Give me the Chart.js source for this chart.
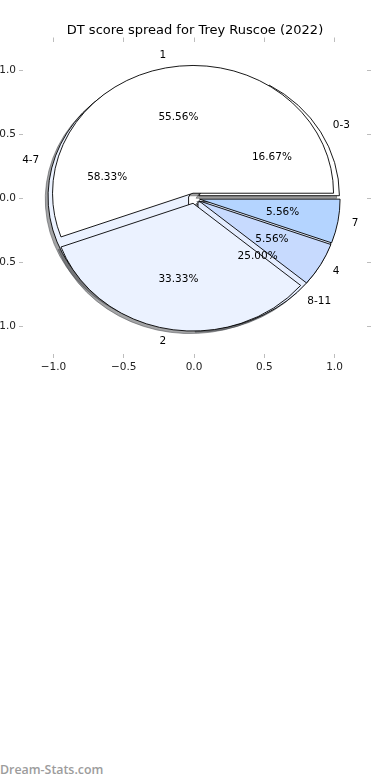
<!DOCTYPE html>
<html>
<head>
<meta charset="utf-8">
<script src="https://cdn.jsdelivr.net/npm/chart.js@4.4.1/dist/chart.umd.min.js"></script>
<style>
  html, body { margin: 0; padding: 0; background: #fff; }
  #wrap { position: relative; width: 390px; height: 780px; overflow: hidden; }
  #box { position: absolute; left: 0; top: 0; width: 390px; height: 380px; }
  #wm { position: absolute; left: 0; top: 762px; font: 600 12.4px "Open Sans", sans-serif; color: #9c9c9c; line-height: 16px; }
</style>
</head>
<body>
<div id="wrap">
  <div id="box"><canvas id="c" width="390" height="380"></canvas></div>
  <div id="wm">Dream-Stats.com</div>
</div>
<script>
// ---- data ----
const chartTitle = 'DT score spread for Trey Ruscoe (2022)';
const innerLabels = ['1', '2', '4', '7'];
const innerValues = [10, 6, 1, 1];
const outerLabels = ['0-3', '4-7', '8-11'];
const outerValues = [2, 7, 3];
const tickValues = [-1, -0.5, 0, 0.5, 1];

// ---- style ----
const innerColors = ['#ffffff', '#ebf2ff', '#c7dafe', '#b4d4ff'];
const outerColors = ['#ffffff', '#ebf2ff', '#e4edff'];
const explodeAmt = 0.04;
const FONT = '"DejaVu Sans", "Liberation Sans", sans-serif';

function slices(values, explode) {
  const total = values.reduce((a, b) => a + b, 0);
  let a = 0;
  return values.map(v => {
    const a1 = a, a2 = a + 360 * v / total;
    a = a2;
    const mid = (a1 + a2) / 2 * Math.PI / 180;
    return { a1, a2, mid, ox: explode * Math.cos(mid), oy: explode * Math.sin(mid), pct: 100 * v / total };
  });
}

function wedgePath(ctx, xs, ys, cxD, cyD, a1, a2) {
  const cx = xs.getPixelForValue(cxD), cy = ys.getPixelForValue(cyD);
  const rx = xs.getPixelForValue(cxD + 1) - cx;
  const ry = cy - ys.getPixelForValue(cyD + 1);
  ctx.beginPath();
  ctx.moveTo(cx, cy);
  ctx.ellipse(cx, cy, rx, ry, 0, -a1 * Math.PI / 180, -a2 * Math.PI / 180, true);
  ctx.closePath();
}

function shadowColor(hex) {
  const r = parseInt(hex.substr(1, 2), 16), g = parseInt(hex.substr(3, 2), 16), b = parseInt(hex.substr(5, 2), 16);
  return 'rgba(' + Math.round(r * 0.3) + ',' + Math.round(g * 0.3) + ',' + Math.round(b * 0.3) + ',0.5)';
}

const piePlugin = {
  id: 'twoPies',
  afterDatasetsDraw(chart) {
    const ctx = chart.ctx, xs = chart.scales.x, ys = chart.scales.y;
    const pies = [
      { s: slices(outerValues, explodeAmt), labels: outerLabels, colors: outerColors },
      { s: slices(innerValues, explodeAmt), labels: innerLabels, colors: innerColors }
    ];
    ctx.save();
    // shadows
    pies.forEach(p => p.s.forEach((w, i) => {
      wedgePath(ctx, xs, ys, w.ox - 0.02, w.oy - 0.02, w.a1, w.a2);
      ctx.fillStyle = shadowColor(p.colors[i % p.colors.length]);
      ctx.strokeStyle = ctx.fillStyle;
      ctx.lineWidth = 1;
      ctx.fill();
      ctx.stroke();
    }));
    // wedges
    pies.forEach(p => p.s.forEach((w, i) => {
      wedgePath(ctx, xs, ys, w.ox, w.oy, w.a1, w.a2);
      ctx.fillStyle = p.colors[i % p.colors.length];
      ctx.fill();
      ctx.strokeStyle = '#000';
      ctx.lineWidth = 0.9;
      ctx.lineJoin = 'miter';
      ctx.stroke();
    }));
    // texts
    ctx.fillStyle = '#000';
    ctx.font = '10.5px ' + FONT;
    ctx.textBaseline = 'middle';
    pies.forEach(p => p.s.forEach((w, i) => {
      const lx = w.ox + 1.1 * Math.cos(w.mid), ly = w.oy + 1.1 * Math.sin(w.mid);
      ctx.textAlign = lx > 0 ? 'left' : 'right';
      ctx.fillText(p.labels[i], xs.getPixelForValue(lx), ys.getPixelForValue(ly));
      const px = w.ox + 0.6 * Math.cos(w.mid), py = w.oy + 0.6 * Math.sin(w.mid);
      ctx.textAlign = 'center';
      ctx.fillText(w.pct.toFixed(2) + '%', xs.getPixelForValue(px), ys.getPixelForValue(py));
    }));
    ctx.restore();
  }
};

function setTicks(scale) { scale.ticks = tickValues.map(v => ({ value: v })); }
const fmt = v => (v < 0 ? '\u2212' : '') + Math.abs(v).toFixed(1);
const gridOpt = { drawOnChartArea: false, drawTicks: true, tickLength: 4, color: '#bdbdbd', lineWidth: 1 };
const tickFont = { family: FONT, size: 10.5 };

new Chart(document.getElementById('c'), {
  type: 'scatter',
  data: { datasets: [] },
  plugins: [piePlugin],
  options: {
    responsive: false,
    animation: false,
    layout: { padding: 0 },
    plugins: {
      legend: { display: false },
      tooltip: { enabled: false },
      title: {
        display: true, text: chartTitle, color: '#000',
        font: { family: FONT, size: 13, weight: 'normal', lineHeight: 1.2 },
        padding: { top: 22.5, bottom: 0 }
      }
    },
    scales: {
      x: {
        type: 'linear', position: 'bottom', min: -1.217, max: 1.231,
        afterBuildTicks: setTicks,
        afterFit: s => { s.height = 26; },
        grid: gridOpt, border: { display: false },
        ticks: { callback: fmt, color: '#222', font: tickFont, padding: 3, maxRotation: 0, autoSkip: false }
      },
      x2: {
        type: 'linear', position: 'top', min: -1.217, max: 1.231,
        afterBuildTicks: setTicks,
        afterFit: s => { s.height = 41.5 - 38.1; },
        grid: gridOpt, border: { display: false },
        ticks: { display: false }
      },
      y: {
        type: 'linear', position: 'left', min: -1.219, max: 1.227,
        afterBuildTicks: setTicks,
        afterFit: s => { s.width = 23; },
        grid: gridOpt, border: { display: false },
        ticks: { callback: fmt, color: '#222', font: tickFont, padding: 3, autoSkip: false }
      },
      y2: {
        type: 'linear', position: 'right', min: -1.219, max: 1.227,
        afterBuildTicks: setTicks,
        afterFit: s => { s.width = 23; },
        grid: gridOpt, border: { display: false },
        ticks: { display: false }
      }
    }
  }
});
</script>
</body>
</html>
